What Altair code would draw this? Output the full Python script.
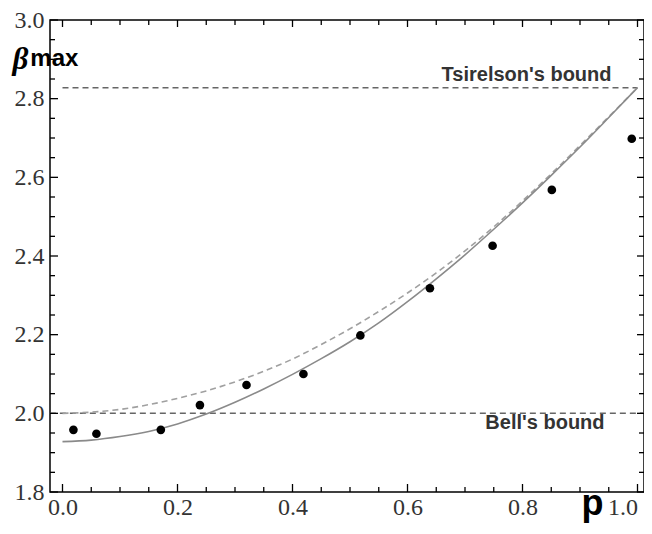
import altair as alt
import pandas as pd

# ---- data ----
p_obs = [0.019, 0.059, 0.171, 0.239, 0.320, 0.419, 0.518, 0.639, 0.748, 0.851, 0.990]
beta_obs = [1.958, 1.948, 1.958, 2.021, 2.072, 2.100, 2.198, 2.318, 2.426, 2.568, 2.698]

p_curve = [0.0, 0.05, 0.10, 0.15, 0.20, 0.25, 0.30, 0.35, 0.40, 0.45, 0.50,
           0.55, 0.60, 0.65, 0.70, 0.75, 0.80, 0.85, 0.90, 0.95, 1.0]
solid_curve = [1.928, 1.932, 1.941, 1.954, 1.973, 1.998, 2.028, 2.062, 2.099, 2.139, 2.182,
               2.230, 2.284, 2.342, 2.403, 2.468, 2.535, 2.605, 2.677, 2.752, 2.828]
dashed_curve = [2.000, 2.003, 2.010, 2.022, 2.038, 2.057, 2.080, 2.107, 2.138, 2.175, 2.215,
                2.259, 2.306, 2.357, 2.413, 2.474, 2.540, 2.609, 2.681, 2.754, 2.828]

bound_values = [2.0, 2.828]
bound_start = [-0.022, 0.0]
bound_end = [1.012, 1.0]
bound_labels = ["Bell's bound", "Tsirelson's bound"]
bound_label_p = [0.839, 0.807]
bound_label_y = [1.959, 2.844]

x_major = [0.0, 0.2, 0.4, 0.6, 0.8, 1.0]
x_minor = [0.05, 0.1, 0.15, 0.25, 0.3, 0.35, 0.45, 0.5, 0.55, 0.65, 0.7, 0.75, 0.85, 0.9, 0.95]
y_major = [1.8, 2.0, 2.2, 2.4, 2.6, 2.8, 3.0]
y_minor = [1.85, 1.9, 1.95, 2.05, 2.1, 2.15, 2.25, 2.3, 2.35, 2.45, 2.5, 2.55,
           2.65, 2.7, 2.75, 2.85, 2.9, 2.95]

W, H = 594, 472

xscale = alt.Scale(domain=[-0.02174, 1.0113], nice=False, zero=False)
yscale = alt.Scale(domain=[1.8, 3.0], nice=False, zero=False)

SERIF = "Liberation Serif, Times New Roman, serif"

xaxis = alt.Axis(values=x_major, format=".1f", ticks=False, domain=False, grid=False,
                 labelFont=SERIF, labelFontSize=24, labelColor="#333",
                 labelPadding=3, labelOverlap=False, labelFlush=8,
                 title="p", titleFont="Liberation Sans", titleFontWeight="bold",
                 titleFontSize=36, titleColor="black", titleX=542, titleY=22,
                 titleAlign="center", titleBaseline="alphabetic")
yaxis = alt.Axis(values=y_major, format=".1f", ticks=False, domain=False, grid=False,
                 labelFont=SERIF, labelFontSize=24, labelColor="#333",
                 labelPadding=6, labelOverlap=False,
                 title="β", titleFont=SERIF, titleFontStyle="italic",
                 titleFontWeight="bold", titleFontSize=31, titleColor="black",
                 titleAngle=0, titleX=-38, titleY=48, titleAlign="left",
                 titleBaseline="alphabetic")


def X(f):
    return alt.X(f, type="quantitative", scale=xscale, axis=xaxis)


def Y(f):
    return alt.Y(f, type="quantitative", scale=yscale, axis=yaxis)


curve_df = pd.DataFrame({"p": p_curve, "solid": solid_curve, "dashed": dashed_curve})
obs_df = pd.DataFrame({"p": p_obs, "beta": beta_obs})
bound_df = pd.DataFrame({"beta": bound_values, "p": bound_start, "p2": bound_end,
                         "label": bound_labels, "lp": bound_label_p, "ly": bound_label_y})

solid = alt.Chart(curve_df).mark_line(color="#8a8a8a", strokeWidth=1.6,
                                      interpolate="monotone").encode(
    x=X("p"), y=Y("solid"))
dashed = alt.Chart(curve_df).mark_line(color="#a0a0a0", strokeWidth=1.6,
                                       strokeDash=[6, 4], interpolate="monotone").encode(
    x=X("p"), y=Y("dashed"))
bounds = alt.Chart(bound_df).mark_rule(color="#666", strokeWidth=1.5,
                                       strokeDash=[6, 4]).encode(
    x=X("p"), x2="p2", y=Y("beta"))
bound_text = alt.Chart(bound_df).mark_text(font="Liberation Sans", fontWeight="bold",
                                           fontSize=20, color="#333", align="center",
                                           baseline="alphabetic").encode(
    x=X("lp"), y=Y("ly"), text="label:N")
points = alt.Chart(obs_df).mark_circle(color="black", opacity=1, size=75).encode(
    x=X("p"), y=Y("beta"))

max_df = pd.DataFrame({"p": [-0.056], "beta": [2.882], "t": ["max"]})
max_text = alt.Chart(max_df).mark_text(font="Liberation Sans", fontWeight="bold",
                                       fontSize=24, color="black", align="left",
                                       baseline="alphabetic").encode(
    x=X("p"), y=Y("beta"), text="t:N")

# tick marks (inward, on all four sides)
xmaj_df = pd.DataFrame({"p": x_major})
xmin_df = pd.DataFrame({"p": x_minor})
ymaj_df = pd.DataFrame({"beta": y_major})
ymin_df = pd.DataFrame({"beta": y_minor})
tk = dict(color="black", strokeWidth=1.3)

ticks = [
    alt.Chart(xmaj_df).mark_rule(**tk).encode(x=X("p"), y=alt.value(H), y2=alt.value(H - 8)),
    alt.Chart(xmin_df).mark_rule(**tk).encode(x=X("p"), y=alt.value(H), y2=alt.value(H - 5)),
    alt.Chart(xmaj_df).mark_rule(**tk).encode(x=X("p"), y=alt.value(0), y2=alt.value(7)),
    alt.Chart(xmin_df).mark_rule(**tk).encode(x=X("p"), y=alt.value(0), y2=alt.value(5)),
    alt.Chart(ymaj_df).mark_rule(**tk).encode(y=Y("beta"), x=alt.value(0), x2=alt.value(8)),
    alt.Chart(ymin_df).mark_rule(**tk).encode(y=Y("beta"), x=alt.value(0), x2=alt.value(5)),
    alt.Chart(ymaj_df).mark_rule(**tk).encode(y=Y("beta"), x=alt.value(W), x2=alt.value(W - 7)),
    alt.Chart(ymin_df).mark_rule(**tk).encode(y=Y("beta"), x=alt.value(W), x2=alt.value(W - 5)),
]

chart = alt.layer(bounds, dashed, solid, points, bound_text, max_text, *ticks).properties(
    width=W, height=H,
    padding={"left": 42, "top": 12, "right": 0, "bottom": 34},
    autosize=alt.AutoSizeParams(type="none"),
    background="white",
).configure_view(stroke="black", strokeWidth=1.5)

chart.save("out.html", embed_options={"renderer": "svg", "actions": False})
